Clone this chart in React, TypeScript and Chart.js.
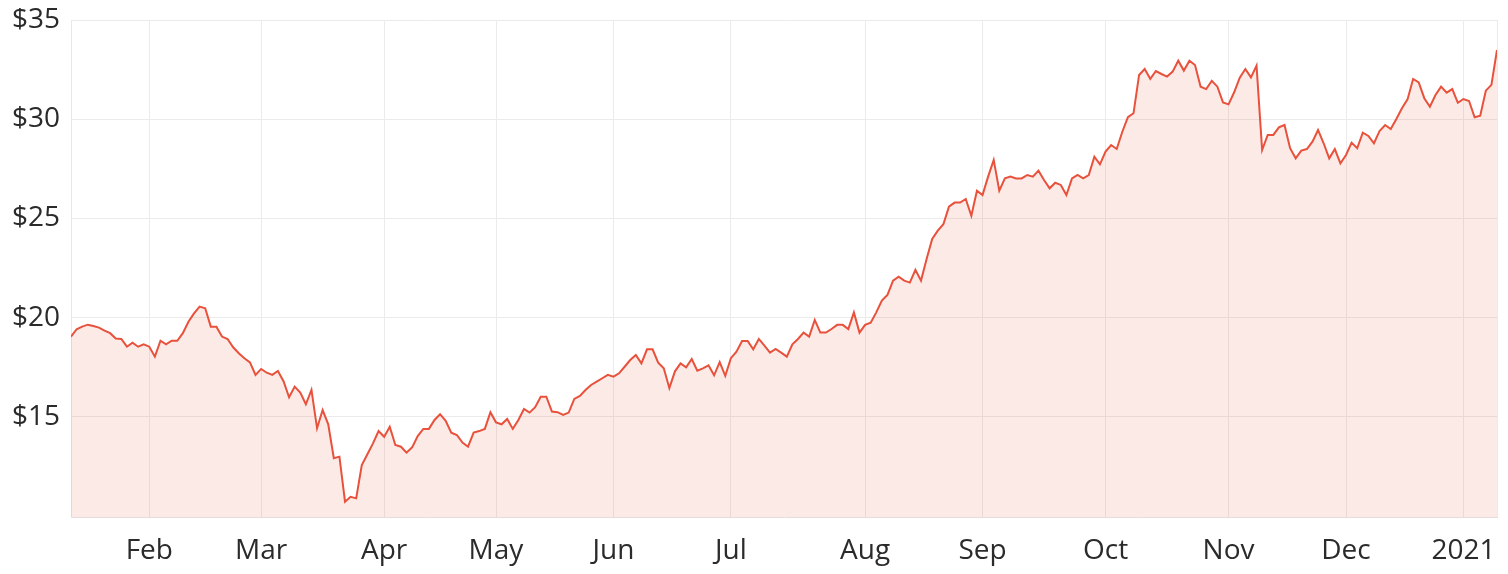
import React, { useEffect, useRef } from 'react';
import { Chart, registerables } from 'chart.js';

Chart.register(...registerables);

const monthLabels = ['Feb', 'Mar', 'Apr', 'May', 'Jun', 'Jul', 'Aug', 'Sep', 'Oct', 'Nov', 'Dec', '2021'];
const monthStartIndex = [14, 34, 56, 76, 97, 118, 142, 163, 185, 207, 228, 249];
const priceTicks = [15, 20, 25, 30, 35];

const prices = [
  19.05, 19.42, 19.55, 19.65, 19.58, 19.5, 19.35, 19.22, 18.95, 18.93,
  18.54, 18.74, 18.54, 18.66, 18.54, 18.04, 18.84, 18.66, 18.84, 18.84,
  19.22, 19.8, 20.22, 20.56, 20.48, 19.55, 19.55, 19.05, 18.93, 18.51,
  18.21, 17.96, 17.75, 17.12, 17.42, 17.23, 17.12, 17.32, 16.8, 15.99,
  16.53, 16.23, 15.64, 16.36, 14.43, 15.35, 14.63, 12.92, 13.0, 10.73,
  10.98, 10.9, 12.58, 13.12, 13.67, 14.29, 14.0, 14.51, 13.59, 13.5,
  13.2, 13.47, 14.04, 14.4, 14.4, 14.85, 15.14, 14.81, 14.21, 14.09,
  13.71, 13.5, 14.21, 14.29, 14.4, 15.24, 14.73, 14.63, 14.9, 14.4,
  14.85, 15.4, 15.22, 15.49, 16.02, 16.02, 15.27, 15.24, 15.1, 15.22,
  15.91, 16.06, 16.36, 16.61, 16.78, 16.95, 17.12, 17.03, 17.2, 17.53,
  17.87, 18.12, 17.7, 18.41, 18.41, 17.74, 17.45, 16.45, 17.3, 17.7,
  17.5, 17.92, 17.33, 17.45, 17.6, 17.1, 17.76, 17.07, 17.96, 18.29,
  18.83, 18.83, 18.41, 18.93, 18.59, 18.24, 18.43, 18.24, 18.04, 18.66,
  18.93, 19.25, 19.05, 19.89, 19.25, 19.25, 19.43, 19.64, 19.64, 19.43,
  20.27, 19.25, 19.64, 19.75, 20.27, 20.86, 21.15, 21.87, 22.07, 21.87,
  21.77, 22.41, 21.87, 22.96, 23.97, 24.39, 24.71, 25.6, 25.8, 25.8,
  25.98, 25.14, 26.4, 26.18, 27.11, 27.95, 26.4, 27.02, 27.11, 27.02,
  27.02, 27.19, 27.11, 27.41, 26.94, 26.52, 26.8, 26.69, 26.18, 27.02,
  27.19, 27.02, 27.19, 28.11, 27.73, 28.37, 28.7, 28.5, 29.37, 30.1,
  30.3, 32.23, 32.53, 32.03, 32.43, 32.28, 32.15, 32.4, 32.95, 32.45,
  32.95, 32.73, 31.64, 31.52, 31.94, 31.64, 30.85, 30.75, 31.36, 32.09,
  32.53, 32.11, 32.7, 28.45, 29.21, 29.21, 29.59, 29.71, 28.54, 28.03,
  28.42, 28.5, 28.87, 29.46, 28.79, 28.03, 28.5, 27.78, 28.2, 28.82,
  28.54, 29.32, 29.16, 28.79, 29.41, 29.71, 29.51, 30.01, 30.55, 31.0,
  32.03, 31.86, 31.06, 30.63, 31.22, 31.64, 31.34, 31.52, 30.83, 31.02,
  30.92, 30.1, 30.18, 31.44, 31.73, 33.49,
];

const FONT = '"Open Sans", "DejaVu Sans", sans-serif';
const TEXT = '#2b2b2b';
const GRID = '#ebebeb';

export default function App() {
  const ref = useRef<HTMLCanvasElement>(null);

  useEffect(() => {
    if (!ref.current) return;
    const last = prices.length - 1;
    const chart = new Chart(ref.current, {
      type: 'line',
      data: {
        datasets: [
          {
            data: prices.map((p, i) => ({ x: i, y: p })),
            borderColor: '#e8513b',
            backgroundColor: 'rgba(232, 81, 59, 0.12)',
            borderWidth: 2,
            fill: 'start',
            pointRadius: 0,
            tension: 0,
          },
        ],
      },
      options: {
        animation: false,
        responsive: true,
        maintainAspectRatio: false,
        layout: { padding: { top: 12, right: 3, bottom: 0, left: 0 } },
        plugins: { legend: { display: false }, tooltip: { enabled: false } },
        scales: {
          x: {
            type: 'linear',
            min: 0,
            max: last,
            afterBuildTicks: (axis: any) => {
              axis.ticks = [...monthStartIndex.map((v) => ({ value: v })), { value: last }];
            },
            ticks: {
              autoSkip: false,
              maxRotation: 0,
              padding: 0,
              color: TEXT,
              font: { family: FONT, size: 28, lineHeight: 1.1 },
              callback: (v: any) => {
                const k = monthStartIndex.indexOf(Number(v));
                return k >= 0 ? monthLabels[k] : '';
              },
            },
            grid: { color: GRID, lineWidth: 1, drawTicks: true, tickLength: 18, tickColor: 'rgba(0,0,0,0)' },
            border: { color: '#e6dcdb', width: 1 },
          },
          y: {
            min: 9.95,
            max: 35,
            afterBuildTicks: (axis: any) => {
              axis.ticks = priceTicks.map((v) => ({ value: v }));
            },
            afterFit: (scale: any) => {
              scale.width = 63;
            },
            ticks: {
              padding: 0,
              color: TEXT,
              font: { family: FONT, size: 28, lineHeight: 0.8 },
              callback: (v: any) => '$' + v,
            },
            grid: { color: GRID, lineWidth: 1, drawTicks: true, tickLength: 11, tickColor: 'rgba(0,0,0,0)' },
            border: { color: '#e8e8e8', width: 1 },
          },
        },
      },
    });
    return () => chart.destroy();
  }, []);

  return (
    <div style={{ width: 1492, height: 558, position: 'relative' }}>
      <canvas ref={ref} />
    </div>
  );
}
